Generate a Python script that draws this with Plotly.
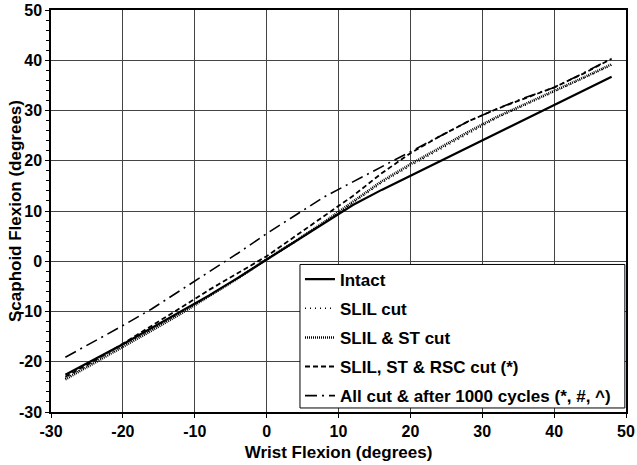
import plotly.graph_objects as go

wrist = [-28, -24, -20, -16, -12, -8, -4, 0, 4, 8, 12, 16, 20, 24, 28, 32, 36, 40, 44, 48]
intact = [-22.6, -19.6, -16.5, -13.3, -10.1, -6.8, -3.3, 0.3, 3.9, 7.6, 11.2, 14.2, 17.0, 19.8, 22.6, 25.4, 28.2, 31.0, 33.9, 36.7]
slil_cut = [-23.3, -20.1, -16.9, -13.6, -10.3, -6.9, -3.4, 0.3, 3.9, 7.7, 11.6, 15.6, 19.0, 22.2, 25.4, 28.5, 31.1, 33.7, 36.3, 39.0]
slil_st_cut = [-23.5, -20.3, -17.0, -13.8, -10.5, -7.0, -3.4, 0.4, 4.0, 7.8, 11.8, 15.9, 19.3, 22.5, 25.7, 28.7, 31.3, 33.8, 36.5, 39.2]
slil_st_rsc_cut = [-23.0, -19.8, -16.4, -12.9, -9.3, -5.7, -2.3, 1.0, 5.0, 9.0, 13.0, 17.5, 21.5, 24.8, 27.8, 30.3, 32.5, 34.6, 37.3, 40.3]
all_cut_cycles = [-19.1, -16.0, -12.8, -9.5, -5.8, -2.2, 1.6, 5.5, 9.2, 12.8, 15.8, 18.8, 21.8, 24.8, 27.8, 30.3, 32.6, 34.6, 37.4, 40.4]

x_ticks = [-30, -20, -10, 0, 10, 20, 30, 40, 50]
x_tick_labels = ["-30", "-20", "-10", "0", "10", "20", "30", "40", "50"]
y_ticks = [-30, -20, -10, 0, 10, 20, 30, 40, 50]
y_tick_labels = ["-30", "-20", "-10", "0", "10", "20", "30", "40", "50"]

names = ["Intact", "SLIL cut", "SLIL & ST cut", "SLIL, ST & RSC cut (*)",
         "All cut & after 1000 cycles (*, #, ^)"]
series = [intact, slil_cut, slil_st_cut, slil_st_rsc_cut, all_cut_cycles]
dashes = ["solid", "1px,4px", "1px,1px", "5px,3px", "12px,5px,2px,5px"]
widths = [2.2, 1.5, 2.5, 1.8, 1.6]

fig = go.Figure()
for i, (n, s, d, w) in enumerate(zip(names, series, dashes, widths)):
    fig.add_trace(go.Scatter(x=wrist, y=s, mode="lines", name=n, legendgroup=f"g{i}",
                             line=dict(color="black", width=w, dash=d)))

font = "Liberation Sans, Arial, sans-serif"
bold = dict(family=font, weight="bold", color="black")

# legend frame
fig.add_shape(type="rect", xref="paper", yref="paper",
              x0=0.433, x1=0.998, y0=0.01, y1=0.367,
              line=dict(color="black", width=1), fillcolor="white", layer="above")

fig.add_annotation(text="Scaphoid Flexion (degrees)", xref="paper", yref="paper",
                   x=-0.0626, y=0.5, xanchor="center", yanchor="middle",
                   textangle=-90, showarrow=False, font=dict(size=17, **bold))

fig.update_layout(
    width=637, height=465,
    margin=dict(l=51, r=11, t=10, b=53),
    paper_bgcolor="white", plot_bgcolor="white",
    font=dict(family=font, color="black"),
    legend=dict(x=0.433, y=0.374, xanchor="left", yanchor="top",
                bgcolor="rgba(0,0,0,0)", borderwidth=0,
                font=dict(size=17, **bold),
                traceorder="grouped", tracegroupgap=4, itemwidth=30),
    showlegend=True,
)
fig.update_xaxes(
    range=[-30, 50], tickvals=x_ticks, ticktext=x_tick_labels, automargin=False,
    showgrid=True, gridcolor="#444", gridwidth=1,
    showline=True, linecolor="black", linewidth=1.5, mirror=True,
    ticks="outside", ticklen=4, tickcolor="black",
    tickfont=dict(size=16, **bold),
    title=dict(text="Wrist Flexion (degrees)", font=dict(size=17, **bold), standoff=7),
    zeroline=False,
)
fig.update_yaxes(
    range=[-30, 50], tickvals=y_ticks, ticktext=y_tick_labels, automargin=False,
    showgrid=True, gridcolor="#444", gridwidth=1,
    showline=True, linecolor="black", linewidth=1.5, mirror=True,
    ticks="outside", ticklen=4, tickcolor="black",
    minor=dict(dtick=2, ticks="outside", ticklen=3, tickcolor="black", showgrid=False),
    tickfont=dict(size=16, **bold),
    zeroline=False,
)
fig.write_html("out.html", config={"displayModeBar": False},
               post_script="document.body.style.margin='0';document.body.style.overflow='hidden';")
